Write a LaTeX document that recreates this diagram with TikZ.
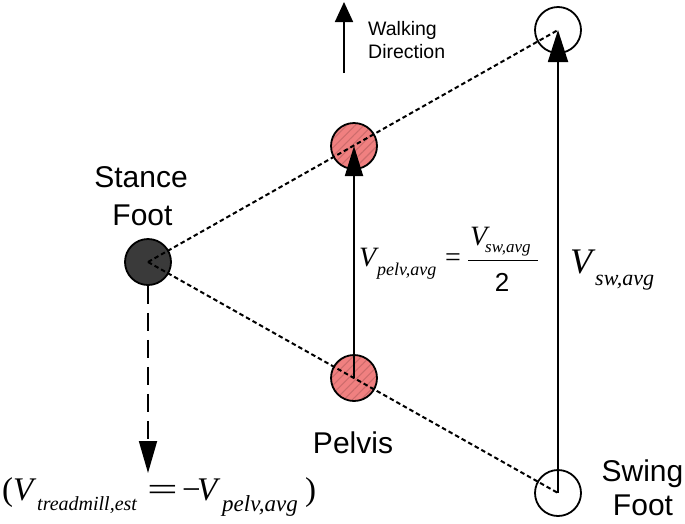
\documentclass[tikz,border=0pt]{standalone}
\usepackage{fontspec}
\usepackage{graphicx}
\setmainfont{Liberation Sans}
\newfontfamily\tms{Liberation Serif}
\usetikzlibrary{arrows.meta,patterns.meta}
\definecolor{pelvisred}{RGB}{240,128,128}
\definecolor{stripecol}{RGB}{205,108,108}
\definecolor{stancegray}{RGB}{58,58,58}
\newcommand{\fsz}[1]{\fontsize{#1}{#1}\selectfont}
\newcommand{\tmsit}[2]{{\fsz{#1}\tms\itshape #2}}
\begin{document}
\begin{tikzpicture}[x=1pt,y=-1pt,
  footdot/.style={circle,minimum size=46pt,inner sep=0pt,line width=1.8pt,draw=black},
  stancedot/.style={footdot,fill=stancegray},
  swingdot/.style={footdot,fill=white},
  pelvdot/.style={footdot,preaction={fill=pelvisred},
     pattern={Lines[angle=45,distance=6pt,line width=1.1pt]},pattern color=stripecol},
  dotline/.style={line width=2pt,dash pattern=on 4.5pt off 3pt},
  bigptr/.style={line width=1.8pt,-{Triangle[length=30pt,width=18pt]}},
  swingptr/.style={line width=1.8pt,-{Triangle[length=32pt,width=20pt]}},
  walkptr/.style={line width=1.8pt,-{Triangle[length=20pt,width=18pt]}},
  dashptr/.style={line width=1.8pt,dash pattern=on 18pt off 9pt,-{Triangle[length=32pt,width=18pt]}},
  lbl/.style={font=\fsz{30},inner sep=0pt,anchor=base},
  mth/.style={inner sep=0pt,anchor=base west}]
\useasboundingbox (0,0) rectangle (685,523);
% circles
\node[stancedot] (S) at (148,262) {};
\node[pelvdot] (P1) at (354,146) {};
\node[pelvdot] (P2) at (354,378) {};
\node[swingdot] (W1) at (558,30) {};
\node[swingdot] (W2) at (558,493) {};
% dotted lines
\draw[dotline] (S.center) -- (W1.center);
\draw[dotline] (S.center) -- (W2.center);
% arrows
\draw[bigptr] (P2.center) -- (P1.center);
\draw[swingptr] (W2.center) -- (W1.center);
\coordinate (wdA) at (344,73);
\coordinate (wdB) at (344,2);
\draw[walkptr] (wdA) -- (wdB);
\coordinate (tm) at (148,473);
\draw[dashptr] (S.south) -- (tm);
% labels
\node[lbl] (st1) at (141,187) {Stance};
\node[lbl] (st2) at (142.5,225) {Foot};
\node[lbl] (pel) at (353,453) {Pelvis};
\node[lbl] (sw1) at (642.5,481) {Swing};
\node[lbl] (sw2) at (643,515) {Foot};
\node[mth,font=\fsz{19.5}] (wk1) at (368,35.7) {Walking};
\node[mth,font=\fsz{19.5}] (wk2) at (368,58.3) {Direction};
% pelvis velocity formula
\node[mth] (lhs) at (359,266.7) {\makebox[18pt][l]{\tmsit{28}{V}}\makebox[68pt][l]{\raisebox{-8.3pt}{\tmsit{18}{pelv,avg}}}{\fsz{28}\tms =}};
\node[mth] (num) at (470,245) {\makebox[15pt][l]{\tmsit{28}{V}}\raisebox{-7.7pt}{\tmsit{17}{sw,avg}}};
\draw[line width=1.2pt] (468,260.7) -- (538,260.7);
\node[lbl,font=\fsz{26}] (den) at (502,291.7) {2};
% swing velocity
\node[mth] (vsw) at (570,273) {\makebox[25pt][l]{\tmsit{36}{V}}\raisebox{-12pt}{\tmsit{22}{sw,avg}}};
% treadmill estimate
\node[mth] (tme) at (2,500) {\makebox[11pt][l]{\fsz{33}\tms (}\makebox[24pt][l]{\tmsit{33}{V}}\makebox[110pt][l]{\raisebox{-10pt}{\tmsit{20}{treadmill,est}}}\makebox[35pt][l]{\scalebox{1.65}[1]{\fsz{33}\tms =}}\makebox[15pt][l]{\fsz{33}\tms −}\makebox[25pt][l]{\tmsit{33}{V}}\makebox[83pt][l]{\raisebox{-11.7pt}{\tmsit{23}{pelv,avg}}}{\fsz{33}\tms )}};
\end{tikzpicture}
\end{document}
